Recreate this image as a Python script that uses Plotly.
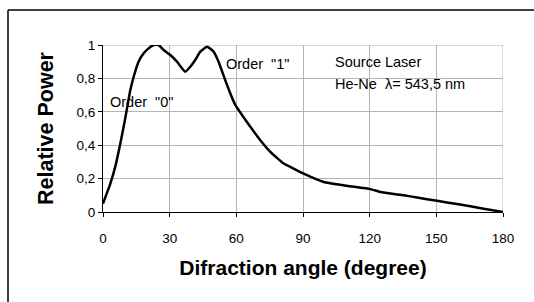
import plotly.graph_objects as go

angle = [0, 3.3, 5.5, 7.8, 10, 12.3, 13.8, 16, 18.3, 20.5, 22.8, 25, 27.3, 30.3, 33.3, 37,
         39.3, 41.5, 43.8, 46.8, 49.8, 52, 55, 57.3, 59.6, 62.6, 66.3, 70.8, 75.3, 81.3,
         85.8, 90.3, 99.3, 109.8, 120.3, 124.8, 135.3, 141.3, 150.3, 159.3, 171.3, 180]
power = [0.05, 0.17, 0.27, 0.41, 0.56, 0.73, 0.81, 0.90, 0.95, 0.98, 1.0, 1.0, 0.97, 0.94, 0.90, 0.84,
         0.87, 0.91, 0.96, 0.99, 0.96, 0.90, 0.79, 0.71, 0.64, 0.58, 0.51, 0.43, 0.36, 0.29,
         0.26, 0.23, 0.18, 0.157, 0.137, 0.12, 0.10, 0.087, 0.067, 0.048, 0.02, 0.0]

x_ticks = [0, 30, 60, 90, 120, 150, 180]
y_ticks = [0, 0.2, 0.4, 0.6, 0.8, 1]
y_ticktext = ["0", "0,2", "0,4", "0,6", "0,8", "1"]

GRID = "#b4b4b4"
font = "Arial, Liberation Sans, sans-serif"

fig = go.Figure()
fig.add_trace(go.Scatter(x=angle, y=power, mode="lines",
                         line=dict(color="black", width=2.5, shape="spline", smoothing=0.4),
                         showlegend=False, hoverinfo="skip"))
# invisible copy on an overlay x axis that only draws the short tick marks
fig.add_trace(go.Scatter(x=angle, y=power, mode="lines", xaxis="x2", yaxis="y",
                         line=dict(color="rgba(0,0,0,0)", width=0),
                         showlegend=False, hoverinfo="skip"))

annots = [
    dict(x=3, y=0.66, text='Order  "0"'),
    dict(x=55.3, y=0.886, text='Order  "1"'),
    dict(x=104.2, y=0.897, text='Source Laser'),
    dict(x=104.2, y=0.765, text='He-Ne  λ= 543,5 nm'),
]
for a in annots:
    fig.add_annotation(x=a["x"], y=a["y"], text=a["text"], showarrow=False,
                       xanchor="left", yanchor="middle", xshift=-2,
                       font=dict(family=font, size=14.5, color="black"))

# outer frame (left and top edges visible in the picture)
fig.add_shape(type="line", xref="paper", yref="paper", x0=-0.2375, x1=-0.2375, y0=-0.7, y1=1.21,
              line=dict(color="black", width=1.5))
fig.add_shape(type="line", xref="paper", yref="paper", x0=-0.2375, x1=1.2, y0=1.21, y1=1.21,
              line=dict(color="black", width=1.5))
# light border of plot area (right and top)
fig.add_shape(type="line", xref="x", yref="y", x0=180, x1=180, y0=0, y1=1,
              line=dict(color=GRID, width=1), layer="below")
fig.add_shape(type="line", xref="x", yref="y", x0=0, x1=180, y0=1, y1=1,
              line=dict(color=GRID, width=1), layer="below")

fig.update_layout(
    width=534, height=302,
    margin=dict(l=103, r=31, t=45, b=90),
    paper_bgcolor="white", plot_bgcolor="white",
    font=dict(family=font, color="black", size=13.5),
    xaxis=dict(range=[0, 180], tickvals=x_ticks, ticktext=[str(v) for v in x_ticks],
               showgrid=True, gridcolor=GRID, gridwidth=1,
               showline=True, linecolor="black", linewidth=1,
               ticks="outside", ticklen=14, tickcolor="rgba(0,0,0,0)",
               zeroline=False,
               title=dict(text="<b>Difraction angle (degree)</b>",
                          font=dict(size=21, family=font), standoff=15)),
    xaxis2=dict(range=[0, 180], overlaying="x", anchor="y", side="bottom",
                tickvals=x_ticks, showticklabels=False, showgrid=False,
                showline=False, zeroline=False,
                ticks="outside", ticklen=4, tickcolor="black", tickwidth=1),
    yaxis=dict(range=[0, 1], tickvals=y_ticks, ticktext=y_ticktext, ticksuffix="\u00a0",
               showgrid=True, gridcolor=GRID, gridwidth=1,
               showline=True, linecolor="black", linewidth=1,
               ticks="outside", ticklen=4, tickcolor="black", tickwidth=1,
               zeroline=False,
               title=dict(text="<b>Relative Power</b>",
                          font=dict(size=21.5, family=font), standoff=16)),
)

fig.write_html("out.html", config={"displayModeBar": False},
               post_script="document.body.style.margin='0';document.body.style.overflow='hidden';")
